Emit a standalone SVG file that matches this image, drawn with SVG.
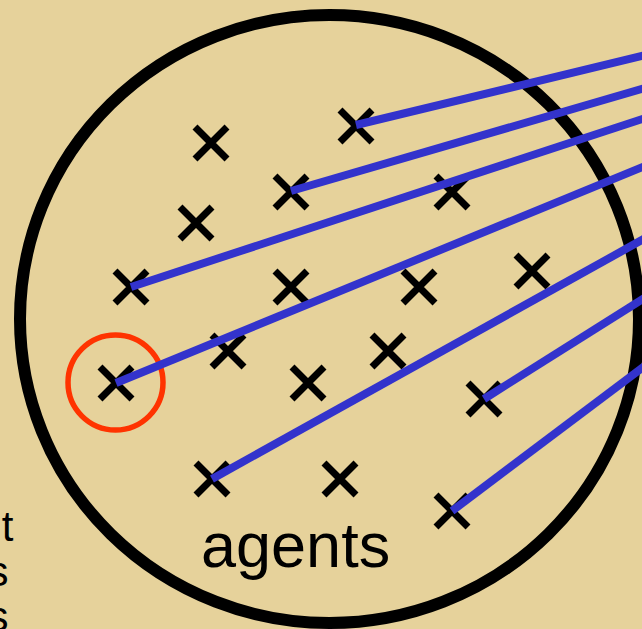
<svg xmlns="http://www.w3.org/2000/svg" xmlns:xlink="http://www.w3.org/1999/xlink" width="642" height="629" viewBox="0 0 642 629">
<style>
.bg{fill:#E6D29B}
.ring{fill:none;stroke:#000;stroke-width:12}
.x{fill:none;stroke:#000;stroke-width:7;stroke-linecap:butt}
.sel{fill:none;stroke:#FF3300;stroke-width:5.5}
.link{stroke:#3333CC;stroke-width:8;stroke-linecap:butt}
.lbl{font-family:"Liberation Sans",Arial,sans-serif;fill:#000}
</style>
<defs>
<path id="xm" class="x" d="M-16,-16L16,16M16,-16L-16,16"/>
</defs>
<rect class="bg" x="0" y="0" width="642" height="629"/>
<g id="side-text" class="lbl" font-size="42" text-anchor="end">
<text x="13.5" y="541">t</text>
<text x="8.5" y="586">s</text>
<text x="8.5" y="631">s</text>
</g>
<g id="agents-set">
<ellipse class="ring" cx="329.5" cy="319" rx="309.5" ry="304"/>
<text class="lbl" x="201" y="567" font-size="63">agents</text>
</g>
<g id="agents">
<g id="a1"><use xlink:href="#xm" x="211" y="143"/></g>
<g id="a2"><use xlink:href="#xm" x="356" y="126"/></g>
<g id="a3"><use xlink:href="#xm" x="291" y="192"/></g>
<g id="a4"><use xlink:href="#xm" x="452" y="192"/></g>
<g id="a5"><use xlink:href="#xm" x="196" y="223"/></g>
<g id="a6"><use xlink:href="#xm" x="131" y="287"/></g>
<g id="a7"><use xlink:href="#xm" x="291" y="287"/></g>
<g id="a8"><use xlink:href="#xm" x="419" y="287"/></g>
<g id="a9"><use xlink:href="#xm" x="532" y="271"/></g>
<g id="a10"><use xlink:href="#xm" x="228" y="351"/></g>
<g id="a11"><use xlink:href="#xm" x="388" y="351"/></g>
<g id="a12"><use xlink:href="#xm" x="116" y="383"/></g>
<g id="a13"><use xlink:href="#xm" x="308" y="383"/></g>
<g id="a14"><use xlink:href="#xm" x="484" y="399"/></g>
<g id="a15"><use xlink:href="#xm" x="212" y="479"/></g>
<g id="a16"><use xlink:href="#xm" x="340" y="479"/></g>
<g id="a17"><use xlink:href="#xm" x="452" y="511"/></g>
</g>
<g id="selected">
<circle class="sel" cx="115.5" cy="382.5" r="47.5"/>
</g>
<g id="connectors">
<line class="link" x1="356" y1="125" x2="650" y2="54"/>
<line class="link" x1="291" y1="191" x2="650" y2="86.5"/>
<line class="link" x1="131" y1="287" x2="650" y2="116.5"/>
<line class="link" x1="116" y1="383" x2="650" y2="164"/>
<line class="link" x1="212" y1="479" x2="650" y2="235.5"/>
<line class="link" x1="484" y1="399" x2="650" y2="294.5"/>
<line class="link" x1="452" y1="511" x2="650" y2="362"/>
</g>
</svg>
